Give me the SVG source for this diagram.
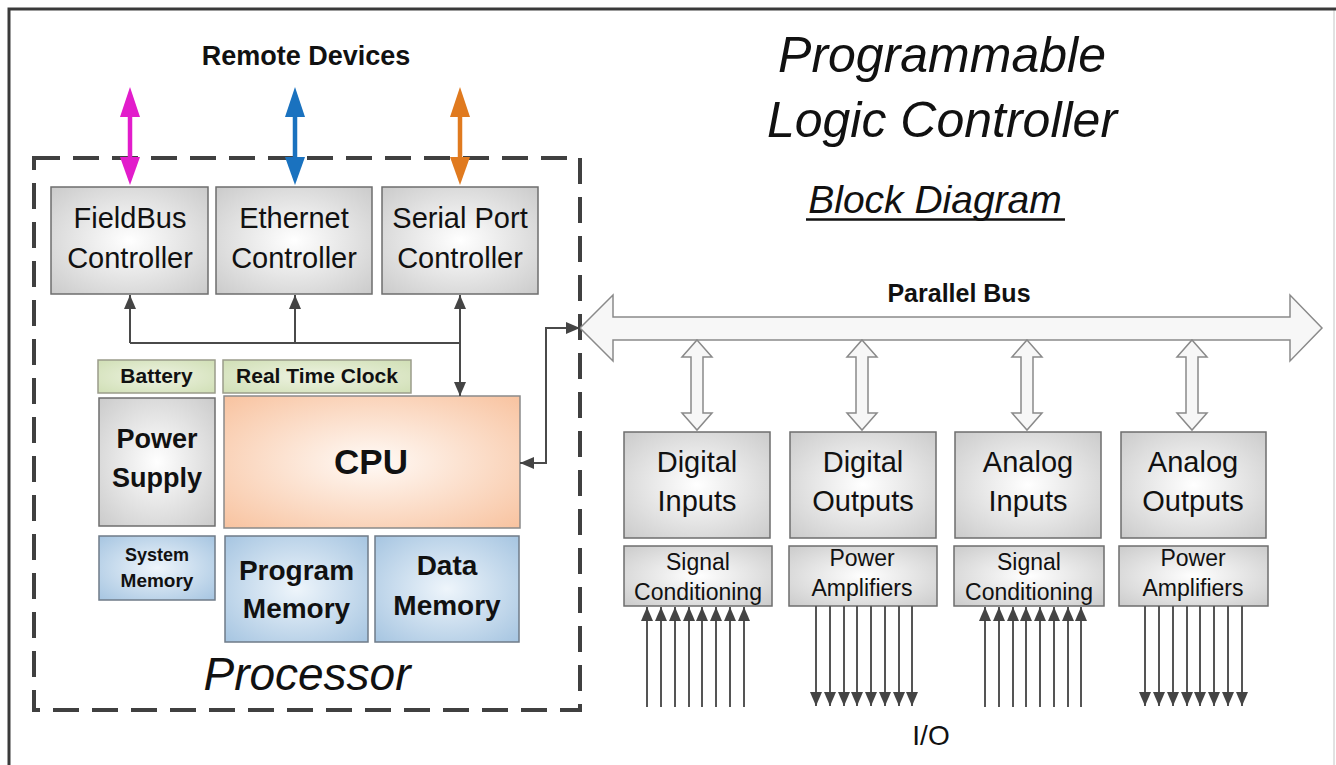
<svg xmlns="http://www.w3.org/2000/svg" width="1336" height="765" viewBox="0 0 1336 765">
<defs>
<radialGradient id="gGray" cx="50%" cy="50%" r="70%"><stop offset="0" stop-color="#ffffff"/><stop offset="1" stop-color="#cbcbcb"/></radialGradient>
<radialGradient id="gPeach" cx="50%" cy="50%" r="70%"><stop offset="0" stop-color="#fffaf6"/><stop offset="1" stop-color="#f8c3a0"/></radialGradient>
<radialGradient id="gBlue" cx="50%" cy="50%" r="70%"><stop offset="0" stop-color="#eef5fb"/><stop offset="1" stop-color="#a6c5e1"/></radialGradient>
<radialGradient id="gGreen" cx="50%" cy="50%" r="70%"><stop offset="0" stop-color="#eef3e2"/><stop offset="1" stop-color="#d0dfb5"/></radialGradient>
<marker id="ah" viewBox="0 0 14 12" refX="14" refY="6" markerWidth="14" markerHeight="12" markerUnits="userSpaceOnUse" orient="auto-start-reverse"><path d="M0,0 L14,6 L0,12 z" fill="#444"/></marker>
<style>
text{font-family:"Liberation Sans",Arial,sans-serif;fill:#111;text-anchor:middle}
.b{font-weight:bold}
.it{font-style:italic}
.box{fill:url(#gGray);stroke:#6e6e6e;stroke-width:1.5}
.peach{fill:url(#gPeach);stroke:#8a8a8a;stroke-width:1.5}
.blue{fill:url(#gBlue);stroke:#6f7b88;stroke-width:1.5}
.green{fill:url(#gGreen);stroke:#9a9c8a;stroke-width:1.5}
.con{fill:none;stroke:#4a4a4a;stroke-width:2}
.io{fill:none;stroke:#555;stroke-width:2}
.hollow{fill:#f7f7f7;stroke:#8a8a8a;stroke-width:1.5}
</style>
</defs>
<rect x="0" y="0" width="1336" height="765" fill="#ffffff"/>
<g id="frame">
<rect x="9" y="9" width="1325" height="760" fill="none" stroke="#d8d8d8" stroke-width="1.5"/>
<path d="M9,765 V9 H1336" fill="none" stroke="#3a3a3a" stroke-width="3"/>
</g>
<g id="titles">
<text class="it" x="942" y="72" font-size="50">Programmable</text>
<text class="it" x="942" y="137" font-size="50">Logic Controller</text>
<text class="it" x="935" y="213" font-size="39">Block Diagram</text>
<line x1="806" y1="219.5" x2="1065" y2="219.5" stroke="#111" stroke-width="2.5"/>
<text class="b" x="306" y="65" font-size="27">Remote Devices</text>
<text class="b" x="959" y="302" font-size="25">Parallel Bus</text>
<text x="931" y="745" font-size="28">I/O</text>
</g>
<g id="processor">
<rect x="34" y="158" width="546" height="552" fill="none" stroke="#404040" stroke-width="4" stroke-dasharray="26 13"/>
<text class="it" x="307" y="690" font-size="46">Processor</text>
</g>
<g id="remote-arrows">
<line x1="130" y1="115" x2="130" y2="159" stroke="#e21ccb" stroke-width="4.5"/>
<polygon points="130,87 120,117 140,117" fill="#e21ccb"/>
<polygon points="130,185 120,157 140,157" fill="#e21ccb"/>
<line x1="295" y1="115" x2="295" y2="159" stroke="#1a72bf" stroke-width="4.5"/>
<polygon points="295,87 285,117 305,117" fill="#1a72bf"/>
<polygon points="295,185 285,157 305,157" fill="#1a72bf"/>
<line x1="460" y1="115" x2="460" y2="159" stroke="#e07a1f" stroke-width="4.5"/>
<polygon points="460,87 450,117 470,117" fill="#e07a1f"/>
<polygon points="460,185 450,157 470,157" fill="#e07a1f"/>
</g>
<g id="fieldbus">
<rect class="box" x="51" y="187" width="157" height="107"/>
<text x="130" y="228" font-size="29">FieldBus</text>
<text x="130" y="268" font-size="29">Controller</text>
</g>
<g id="ethernet">
<rect class="box" x="216" y="187" width="156" height="107"/>
<text x="294" y="228" font-size="29">Ethernet</text>
<text x="294" y="268" font-size="29">Controller</text>
</g>
<g id="serial">
<rect class="box" x="382" y="187" width="156" height="107"/>
<text x="460" y="228" font-size="29">Serial Port</text>
<text x="460" y="268" font-size="29">Controller</text>
</g>
<g id="battery">
<rect class="green" x="98" y="360" width="117" height="33"/>
<text class="b" x="156.5" y="383" font-size="21">Battery</text>
</g>
<g id="rtc">
<rect class="green" x="223" y="360" width="188" height="33"/>
<text class="b" x="317" y="383" font-size="21">Real Time Clock</text>
</g>
<g id="power-supply">
<rect class="box" x="99" y="398" width="116" height="128"/>
<text class="b" x="157" y="448" font-size="27">Power</text>
<text class="b" x="157" y="487" font-size="27">Supply</text>
</g>
<g id="cpu">
<rect class="peach" x="224" y="396" width="296" height="132"/>
<text class="b" x="371" y="474" font-size="35">CPU</text>
</g>
<g id="system-memory">
<rect class="blue" x="99" y="536" width="116" height="64"/>
<text class="b" x="157" y="561" font-size="18">System</text>
<text class="b" x="157" y="587" font-size="19">Memory</text>
</g>
<g id="program-memory">
<rect class="blue" x="225" y="536" width="143" height="106"/>
<text class="b" x="296.5" y="580" font-size="28">Program</text>
<text class="b" x="296.5" y="618" font-size="28">Memory</text>
</g>
<g id="data-memory">
<rect class="blue" x="375" y="536" width="144" height="106"/>
<text class="b" x="447" y="575" font-size="28">Data</text>
<text class="b" x="447" y="615" font-size="28">Memory</text>
</g>
<g id="parallel-bus">
<polygon class="hollow" points="580,328 613,295 613,317 1290,317 1290,295 1322,328 1290,361 1290,340 613,340 613,361"/>
</g>
<g id="digital-inputs">
<rect class="box" x="624" y="432" width="146" height="106"/>
<text x="697" y="472" font-size="29">Digital</text>
<text x="697" y="511" font-size="29">Inputs</text>
</g>
<g id="digital-outputs">
<rect class="box" x="790" y="432" width="146" height="106"/>
<text x="863" y="472" font-size="29">Digital</text>
<text x="863" y="511" font-size="29">Outputs</text>
</g>
<g id="analog-inputs">
<rect class="box" x="955" y="432" width="146" height="106"/>
<text x="1028" y="472" font-size="29">Analog</text>
<text x="1028" y="511" font-size="29">Inputs</text>
</g>
<g id="analog-outputs">
<rect class="box" x="1121" y="432" width="145" height="106"/>
<text x="1193" y="472" font-size="29">Analog</text>
<text x="1193" y="511" font-size="29">Outputs</text>
</g>
<g id="signal-conditioning-1">
<rect class="box" x="624" y="546" width="148" height="60"/>
<text x="698" y="570" font-size="23">Signal</text>
<text x="698" y="600" font-size="23">Conditioning</text>
</g>
<g id="power-amplifiers-1">
<rect class="box" x="789" y="546" width="148" height="60"/>
<text x="862" y="566" font-size="23">Power</text>
<text x="862" y="596" font-size="23">Amplifiers</text>
</g>
<g id="signal-conditioning-2">
<rect class="box" x="954" y="546" width="150" height="60"/>
<text x="1029" y="570" font-size="23">Signal</text>
<text x="1029" y="600" font-size="23">Conditioning</text>
</g>
<g id="power-amplifiers-2">
<rect class="box" x="1119" y="546" width="149" height="60"/>
<text x="1193" y="566" font-size="23">Power</text>
<text x="1193" y="596" font-size="23">Amplifiers</text>
</g>
<g id="connectors">
<path class="con" d="M130,343 H460"/>
<path class="con" d="M130,343 V295" marker-end="url(#ah)"/>
<path class="con" d="M295,343 V295" marker-end="url(#ah)"/>
<path class="con" d="M460,295 V396" marker-start="url(#ah)" marker-end="url(#ah)"/>
<path class="con" d="M520,463 H546 V328 H580" marker-start="url(#ah)" marker-end="url(#ah)"/>
<polygon class="hollow" points="697,340 712,357 703,357 703,413 712,413 697,430 682,413 691,413 691,357 682,357"/>
<polygon class="hollow" points="862,340 877,357 868,357 868,413 877,413 862,430 847,413 856,413 856,357 847,357"/>
<polygon class="hollow" points="1027,340 1042,357 1033,357 1033,413 1042,413 1027,430 1012,413 1021,413 1021,357 1012,357"/>
<polygon class="hollow" points="1192,340 1207,357 1198,357 1198,413 1207,413 1192,430 1177,413 1186,413 1186,357 1177,357"/>
<g marker-end="url(#ah)">
<path class="io" d="M647,707 V607"/><path class="io" d="M661,707 V607"/><path class="io" d="M675,707 V607"/><path class="io" d="M689,707 V607"/><path class="io" d="M702,707 V607"/><path class="io" d="M716,707 V607"/><path class="io" d="M730,707 V607"/><path class="io" d="M744,707 V607"/>
<path class="io" d="M816,606 V706"/><path class="io" d="M830,606 V706"/><path class="io" d="M844,606 V706"/><path class="io" d="M857,606 V706"/><path class="io" d="M871,606 V706"/><path class="io" d="M885,606 V706"/><path class="io" d="M899,606 V706"/><path class="io" d="M912,606 V706"/>
<path class="io" d="M985,707 V607"/><path class="io" d="M999,707 V607"/><path class="io" d="M1013,707 V607"/><path class="io" d="M1026,707 V607"/><path class="io" d="M1040,707 V607"/><path class="io" d="M1054,707 V607"/><path class="io" d="M1068,707 V607"/><path class="io" d="M1081,707 V607"/>
<path class="io" d="M1145,606 V706"/><path class="io" d="M1159,606 V706"/><path class="io" d="M1173,606 V706"/><path class="io" d="M1187,606 V706"/><path class="io" d="M1200,606 V706"/><path class="io" d="M1214,606 V706"/><path class="io" d="M1228,606 V706"/><path class="io" d="M1242,606 V706"/>
</g>
</g>
</svg>
